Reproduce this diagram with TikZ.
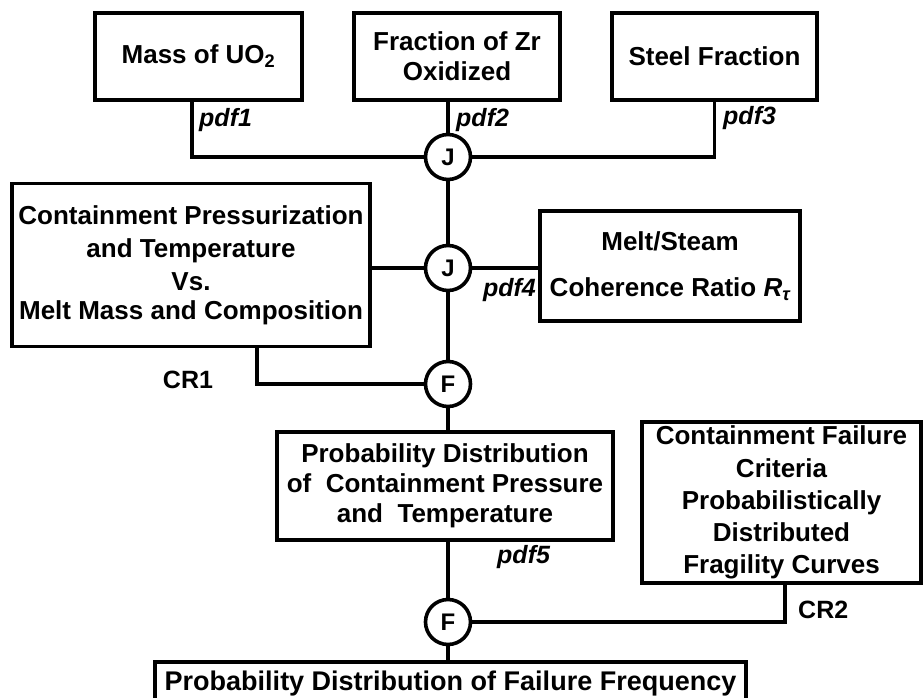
\documentclass[tikz,border=0pt]{standalone}
\usepackage{fontspec}
\setmainfont{Liberation Sans}
\begin{document}
\begin{tikzpicture}[x=1pt,y=-1pt,
  box/.style={draw, line width=3.4pt, inner sep=0pt, align=center,
    font=\bfseries\fontsize{26}{32}\selectfont},
  jn/.style={circle, draw, line width=3.6pt, minimum size=45pt, inner sep=0pt,
    fill=white, font=\bfseries\fontsize{24}{28}\selectfont},
  lbl/.style={font=\bfseries\itshape\fontsize{25}{30}\selectfont, inner sep=0pt},
  crl/.style={font=\bfseries\fontsize{25}{30}\selectfont, inner sep=0pt},
  wire/.style={line width=3.4pt}]
\useasboundingbox (0,0) rectangle (923,698);
\clip (0,0) rectangle (923,698);

% boxes
\node[box, minimum width=207pt, minimum height=87pt] (b1) at (198.5,56.5) {Mass of UO\textsubscript{2}};
\node[box, minimum width=206pt, minimum height=87pt] (b2) at (457,56.5) {Fraction of Zr\\[-2pt]Oxidized};
\node[box, minimum width=205pt, minimum height=87pt] (b3) at (714.5,56.5) {Steel Fraction};
\node[box, minimum width=358pt, minimum height=163pt] (b4) at (191,265)
  {Containment Pressurization\\[1pt]and Temperature\\[1pt]Vs.\\[-3pt]Melt Mass and Composition};
\node[box, minimum width=260pt, minimum height=110pt] (b5) at (670,266)
  {Melt/Steam\\[14pt]Coherence Ratio {\itshape R}\textsubscript{\itshape τ}};
\node[box, minimum width=336pt, minimum height=108pt] (b6) at (445,486)
  {Probability Distribution\\[-2pt]of\ \ Containment Pressure\\[-2pt]and\ \ Temperature};
\node[box, minimum width=279pt, minimum height=161pt] (b7) at (781.5,502.5)
  {Containment Failure\\[1pt]Criteria\\Probabilistically\\Distributed\\Fragility Curves};
\node[box, minimum width=591pt, minimum height=44pt,
  font=\bfseries\fontsize{27}{32}\selectfont] (b8) at (450.5,684)
  {Probability Distribution of Failure Frequency};

% junctions
\node[jn] (j1) at (448,157) {J};
\node[jn] (j2) at (448,268) {J};
\node[jn] (f1) at (448,384) {F};
\node[jn] (f2) at (448,622) {F};

% connectors
\draw[wire] ([xshift=-6.5pt]b1.south) |- (j1.west);
\draw[wire] (b3.south) |- (j1.east);
\draw[wire] (b2.south -| j1) -- (j1.north);
\draw[wire] (j1.south) -- (j2.north);
\draw[wire] (b4.east |- j2) -- (j2.west);
\draw[wire] (j2.east) -- (b5.west |- j2);
\draw[wire] (j2.south) -- (f1.north);
\draw[wire] ([xshift=66pt]b4.south) |- (f1.west);
\draw[wire] (f1.south) -- (f1 |- b6.north);
\draw[wire] (b6.south -| f2) -- (f2.north);
\draw[wire] ([xshift=3.5pt]b7.south) |- (f2.east);
\draw[wire] (f2.south) -- (f2 |- b8.north);

% labels
\node[lbl, anchor=west] (l1) at (199,120) {pdf1};
\node[lbl, anchor=west] (l2) at (456,120) {pdf2};
\node[lbl, anchor=west] (l3) at (723,118) {pdf3};
\node[lbl, anchor=east] (l4) at (536,290) {pdf4};
\node[lbl, anchor=west] (l5) at (497,557) {pdf5};
\node[crl] (c1) at (188,380) {CR1};
\node[crl, anchor=west] (c2) at (798,610) {CR2};
\end{tikzpicture}
\end{document}
